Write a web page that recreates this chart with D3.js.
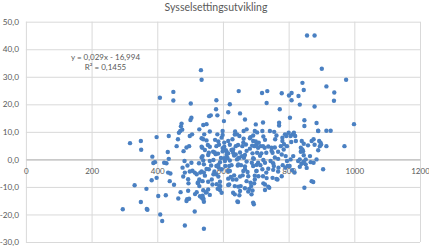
<!DOCTYPE html>
<html>
<head>
<meta charset="utf-8">
<script src="https://cdn.jsdelivr.net/npm/d3@7"></script>
<style>
  body { margin: 0; background: #fff; }
  text { font-family: Lato, "Open Sans", sans-serif; fill: #595959; }
</style>
</head>
<body>
<div id="grafico"></div>
<script>
// Data: [innbyggere/kvadratkm (x), sysselsettingsutvikling % (y)]
const tittel = 'Sysselsettingsutvikling';
const xTicks = [0, 200, 400, 600, 800, 1000, 1200];
const yTicks = [-30, -20, -10, 0, 10, 20, 30, 40, 50];
const trendTekst = ['y = 0,029x - 16,994', 'R² = 0,1455'];

const punkter = [
  [317,5.9],[350,6.7],[351,3.5],[331,-9.4],[295,-18.1],[350,-15.5],[367,-10.7],[368,-18],[370,-18.3],[385,1.0],
  [393,-1.0],[388,-1.3],[383,-7.6],[398,-6.7],[403,-13.3],[398,8.1],[426,-13.0],
  [408,22.4],[409,-20],[415,-22.4],[421,-1.2],[428,-1.4],[435,0.2],[432,2.7],[435,8.5],[433,-4.8],[440,-5.1],
  [438,-7.9],[451,-9.2],[449,24.5],[449,21.4],[459,4.8],[463,7.3],[466,9.7],[470,10.3],[472,12.0],[474,13.0],
  [476,10.8],[480,3.0],[483,-0.6],[477,-3.0],[484,-4.8],[471,-11.9],[464,-14.2],[484,-24.0],[494,-11.4],[495,-8.7],
  [489,-15.1],[497,-14.3],[491,-14.5],[501,14.3],[502,20.3],[504,15.1],[499,8.5],[506,9.1],[497,4.8],[489,4.3],
  [492,-2.2],[504,-1.2],[507,-4.1],[499,-4.4],[514,-4.8],[514,-18.9],[520,-11.9],[528,-7.3],[494,-7.2],[479,-6.2],
  [523,-8.6],[540,-14.1],[548,-12.0],[530,-13.4],
  [533,32.4],[535,28.9],[528,10.9],[540,12.5],[543,9.1],[540,7.3],[537,4.2],[550,6.9],[538,1.2],[540,-0.4],
  [542,-1.8],[535,-4.4],[531,-4.8],[542,-4.8],[538,-7.9],[528,-9.7],[540,-11.2],[535,-13.9],[540,-14.5],[542,-15.4],
  [538,-13.2],[542,-25.2],[550,-11.9],[555,-10.9],[558,15.7],[563,16.0],[550,12.8],[554,5.2],[557,2.4],[560,-0.6],
  [564,-2.2],[557,-3.6],[566,-7.3],[568,-9.1],[571,-5.4],[579,18.2],[580,21.5],[583,16.0],[583,9.1],[580,4.8],
  [575,2.5],[585,2.1],[580,-2.4],[587,-3.0],[579,-5.4],[591,-8.1],[589,-9.7],[584,-10.7],[596,-12.1],[592,-9.7],
  [596,-3.6],[591,-1.0],[594,0.5],[599,2.9],[599,4.1],[596,7.9],[599,10.3],[603,13.9],
  [616,17.1],[621,20.0],[604,6.1],[609,3.3],[611,1.6],[616,2.2],[614,0.5],[606,-0.6],[621,-0.4],[619,-2.4],
  [607,-2.4],[626,-2.1],[616,-4.2],[624,-6.4],[616,-7.0],[630,-7.3],[634,-5.8],[619,-9.1],[631,-12.1],[641,-7.3],
  [636,-9.7],[646,-15.5],[650,-13.0],[652,-11.5],[654,-9.7],[645,-2.2],[643,0.0],[650,0.6],[639,1.8],[652,2.5],
  [631,2.4],[631,3.6],[639,4.8],[646,5.2],[629,7.3],[636,9.0],[643,9.1],[650,8.5],[648,24.8],[652,16.7],
  [667,14.5],[672,10.9],[663,10.3],[662,6.1],[659,4.8],[670,5.4],[658,1.2],[664,0.6],[672,-0.8],[655,-2.1],
  [667,-3.6],[675,-4.6],[660,-5.8],[677,-6.1],[672,-7.9],[684,-8.5],[686,-9.7],[680,-10.7],[690,-11.3],[692,-15.7],
  [697,-7.3],[692,-2.4],[688,-1.2],[694,0.2],[690,2.2],[682,3.9],[696,4.8],[692,6.7],[684,8.1],[692,8.7],
  [697,10.3],[700,12.7],
  [719,24.1],[735,24.8],[733,20.5],[722,13.4],[720,10.3],[704,9.8],[709,6.1],[702,5.4],[707,4.2],[714,4.8],
  [722,4.8],[727,4.2],[738,4.7],[704,2.4],[717,2.2],[732,2.4],[707,-1.2],[714,-2.1],[728,-1.2],[720,-3.6],
  [738,-3.4],[702,-4.2],[708,-6.1],[722,-6.1],[732,-4.8],[728,-9.1],[741,-10.3],[751,-6.7],[755,-2.4],[745,-0.6],
  [751,2.4],[748,4.2],[759,7.3],[763,8.7],[756,10.0],[743,10.3],[771,13.3],[771,12.3],[773,18.2],[779,24.0],
  [769,-3.0],[766,-7.3],[779,-6.1],[782,-2.1],[779,1.8],[785,3.6],[776,4.8],[781,6.7],[793,8.5],[789,9.1],
  [795,4.8],[791,1.2],[795,-0.6],[790,-3.0],[797,-2.4],
  [801,23.2],[809,24.1],[809,21.5],[804,15.1],[800,9.7],[806,8.5],[812,9.1],[816,9.7],[820,8.5],[808,6.3],
  [822,6.7],[814,1.2],[806,0.0],[803,-2.4],[811,-3.9],[818,-4.8],[829,-0.6],[837,2.8],[834,0.0],[837,4.2],
  [842,3.6],[839,-1.6],[844,3.0],[846,1.5],[846,-0.8],[834,19.9],[842,27.8],[846,25.2],[830,23.0],[848,14.2],
  [848,12.1],[840,6.7],[846,5.7],[834,-2.7],[846,-1.2],[852,-1.8],[855,-3.1],[852,0.0],[848,-10.3],[859,5.1],
  [865,1.2],[867,-1.0],[870,6.7],[870,-7.9],[875,-8.2],[879,19.2],[876,7.3],[879,5.3],[876,-1.2],[885,0.0],
  [885,13.2],[890,10.3],[893,6.7],[897,6.1],[890,3.3],[895,4.8],
  [901,32.9],[915,26.5],[939,24.3],[938,21.3],[975,28.9],[915,10.4],[928,10.4],[890,10.4],[915,4.8],[899,5.4],
  [905,-3.6],[970,4.8],[999,12.8],[856,45],[879,45],
  // tett område midt i skyen
  [637,10.1],[560,10.1],[599,8.9],[723,8.3],[781,7.9],[535,7.7],[576,7.1],[616,6.7],[663,7.5],[700,6.5],
  [535,4.6],[560,4.6],[604,4.6],[545,3.4],[611,2.8],[555,1.6],[586,6.5],[682,7.7],
  [728,7.1],[588,5.3],[621,5.3],[689,5.0],[758,4.3],[786,5.5],
  [570,2.8],[626,3.4],[672,3.1],[748,3.1],[768,2.8],[578,1.9],
  [634,1.4],[667,1.6],[713,1.3],[758,0.7],
  [535,0.7],[571,-0.2],[604,0.4],[647,0.4],[692,0.4],
  [723,-0.2],[768,0.2],[527,-1.4],[586,-2.0],[647,-1.8],[667,-2.6],
  [702,-2.0],[753,-1.4],[550,-3.5],[574,-4.4],[621,-4.2],
  [662,-4.2],[702,-4.2],[753,-3.8],[768,-4.4],[520,-5.4],[545,-5.9],
  [586,-6.2],[652,-6.2],[697,-5.9],[733,-6.8],[763,-7.1],[525,-8.3],[555,-8.1],
  [581,-9.0],[616,-9.3],[647,-9.9],[667,-10.5],[695,-8.7],[723,-8.7],[738,-9.9],[515,-12.6],
  [560,-12.9],[591,-11.1],[636,-12.7],[677,-11.7],[687,-12.7],[728,-11.1],[644,-15.3],[694,-16.3]
];

const largura = 429;
const altura = 248;
const margem = { top: 21.7, right: 9, bottom: 6, left: 25.9 };

const svg = d3
  .select('#grafico')
  .append('svg')
  .attr('width', largura)
  .attr('height', altura);

const x = d3.scaleLinear().domain([0, 1200]).range([margem.left, largura - margem.right]);
const y = d3.scaleLinear().domain([-30, 50]).range([altura - margem.bottom, margem.top]);

const norsk = d3.formatLocale({ decimal: ',', thousands: ' ', grouping: [3], currency: ['', ' kr'], minus: '-' });
const fmtY = norsk.format('.1f');

// rutenett
svg.append('g')
  .attr('transform', `translate(${x(0)},0)`)
  .call(d3.axisLeft(y).tickValues(yTicks).tickSize(-(x(1200) - x(0))).tickFormat(fmtY).tickPadding(7))
  .call((g) => g.select('.domain').remove())
  .call((g) => g.selectAll('line').attr('stroke', '#d9d9d9'))
  .call((g) => g.selectAll('text').style('font-size', '8.2px').attr('fill', '#595959'));

svg.append('g')
  .attr('transform', `translate(0,${y(-30)})`)
  .call(d3.axisBottom(x).tickValues(xTicks).tickSize(-(y(-30) - y(50))).tickFormat(''))
  .call((g) => g.select('.domain').remove())
  .call((g) => g.selectAll('line').attr('stroke', '#d9d9d9'));

// x-akse ved y = 0
svg.append('g')
  .attr('transform', `translate(0,${y(0)})`)
  .call(d3.axisBottom(x).tickValues(xTicks).tickSize(0).tickPadding(8.5).tickFormat(d3.format('d')))
  .call((g) => g.select('.domain').attr('stroke', '#bfbfbf').attr('stroke-width', 1.2))
  .call((g) => g.selectAll('text').style('font-size', '8px').attr('fill', '#595959'));

// punkter
svg.append('g')
  .selectAll('circle')
  .data(punkter)
  .enter()
  .append('circle')
  .attr('cx', (d) => x(d[0]))
  .attr('cy', (d) => y(d[1]))
  .attr('r', 2.2)
  .attr('fill', '#4a80c2');

// tittel
svg.append('text')
  .attr('x', 216)
  .attr('y', 10.5)
  .attr('text-anchor', 'middle')
  .style('font-size', '10.5px')
  .text(tittel);

// trendlinje-tekst
svg.selectAll('.trend')
  .data(trendTekst)
  .enter()
  .append('text')
  .attr('class', 'trend')
  .attr('x', 105.5)
  .attr('y', (d, i) => 59.5 + i * 10)
  .attr('text-anchor', 'middle')
  .style('font-size', '8px')
  .text((d) => d);
</script>
</body>
</html>
